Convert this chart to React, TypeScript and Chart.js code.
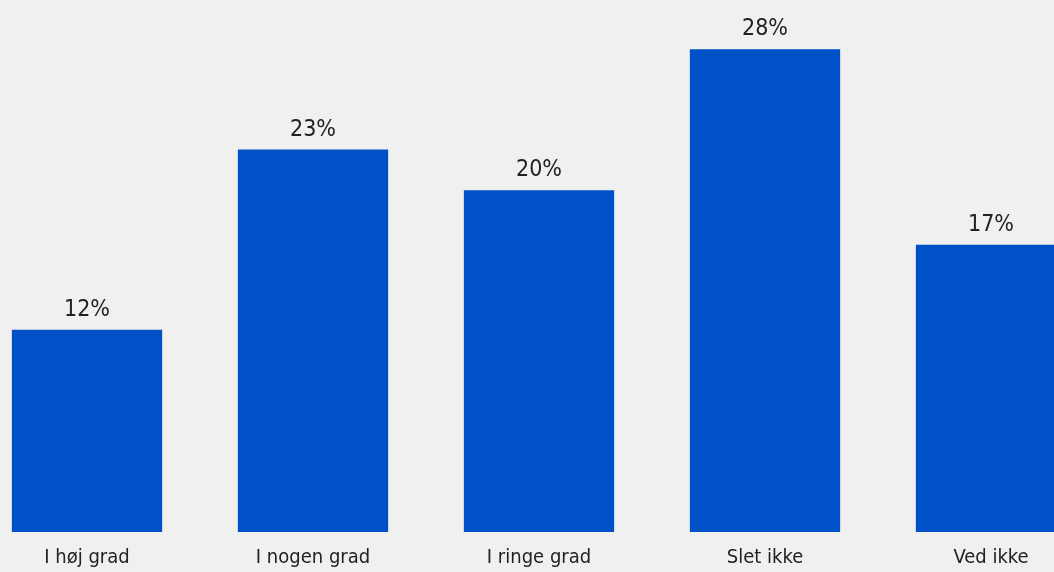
import React, { useEffect, useRef } from "react";
import { Chart, registerables } from "chart.js";

Chart.register(...registerables);

const categories = ["I høj grad", "I nogen grad", "I ringe grad", "Slet ikke", "Ved ikke"];
const values = [11.9, 22.5, 20.1, 28.4, 16.9];
const yMax = 30;

const FONT = "'DejaVu Sans Condensed', 'DejaVu Sans', sans-serif";
const BAR = "#0050c7";
const TEXT = "#222222";

const valueLabels = {
  id: "valueLabels",
  afterDatasetsDraw(chart: any) {
    const ctx = chart.ctx;
    const meta = chart.getDatasetMeta(0);
    ctx.save();
    ctx.font = `23px ${FONT}`;
    ctx.fillStyle = TEXT;
    ctx.textAlign = "center";
    ctx.textBaseline = "alphabetic";
    meta.data.forEach((bar: any, i: number) => {
      const v = chart.data.datasets[0].data[i] as number;
      ctx.fillText(`${Math.round(v)}%`, bar.x, bar.y - 14);
    });
    ctx.restore();
  },
};

export default function App() {
  const ref = useRef<HTMLCanvasElement>(null);
  useEffect(() => {
    document.body.style.background = "#f0f0f0";
    document.body.style.overflow = "hidden";
    const chart = new Chart(ref.current!, {
      type: "bar",
      data: {
        labels: categories,
        datasets: [
          {
            data: values,
            backgroundColor: BAR,
            barPercentage: 0.665,
            categoryPercentage: 1,
          },
        ],
      },
      options: {
        animation: false,
        responsive: true,
        maintainAspectRatio: false,
        layout: { padding: { top: 22, left: 0, right: 0, bottom: 0 } },
        plugins: { legend: { display: false }, tooltip: { enabled: false } },
        scales: {
          x: {
            grid: { display: false, drawTicks: false },
            border: { display: false },
            ticks: { color: TEXT, font: { family: FONT, size: 20 }, padding: 14, maxRotation: 0, autoSkip: false },
            afterFit: (scale: any) => {
              scale.height = 40;
            },
          },
          y: { display: false, min: 0, max: yMax },
        },
      },
      plugins: [valueLabels],
    });
    return () => chart.destroy();
  }, []);
  return (
    <div style={{ position: "fixed", top: 0, left: -26, width: 1130, height: 572, background: "#f0f0f0" }}>
      <canvas ref={ref} />
    </div>
  );
}
